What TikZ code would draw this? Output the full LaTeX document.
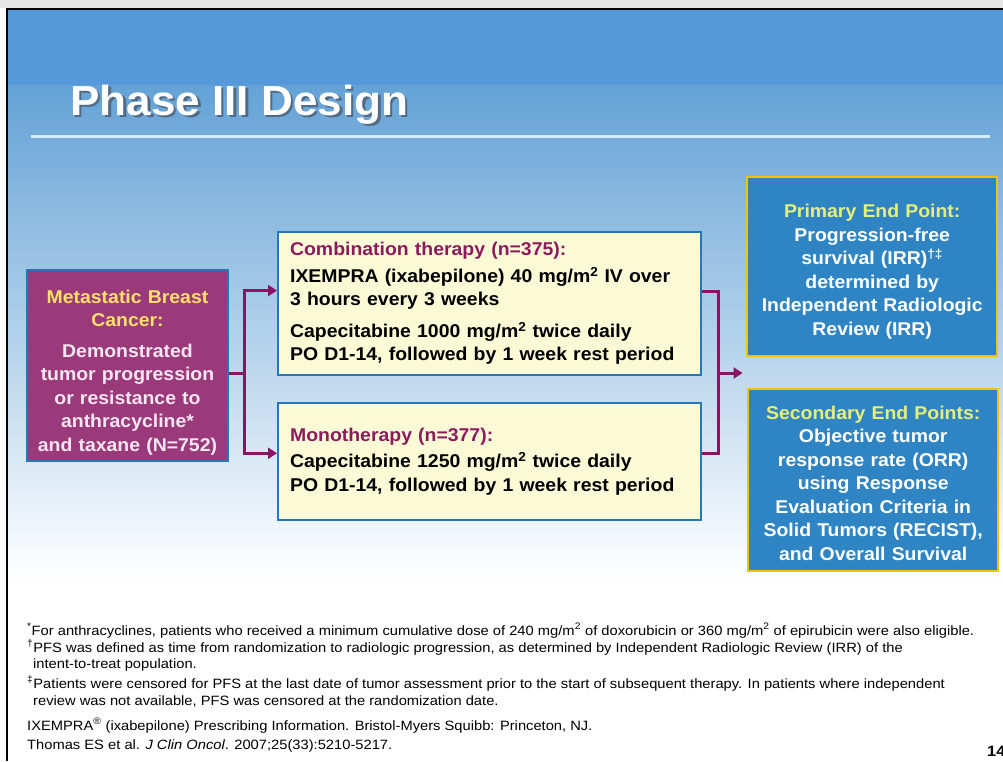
\documentclass[tikz,border=0pt]{standalone}
\usepackage{fontspec}
\setmainfont{Liberation Sans}[FakeStretch=1.05]
\newfontfamily\notefont{Liberation Sans}[FakeStretch=1.09]
\usetikzlibrary{arrows.meta,calc}

\definecolor{headblue}{HTML}{5599DA}
\definecolor{gradtop}{HTML}{64A2D6}
\definecolor{gradmid}{HTML}{CBE0F2}
\definecolor{rulecol}{HTML}{D2EDFB}
\definecolor{plum}{HTML}{9A3A7B}
\definecolor{plumtext}{HTML}{F6E6F2}
\definecolor{connect}{HTML}{8B1462}
\definecolor{boxblue}{HTML}{2377BA}
\definecolor{cream}{HTML}{FAFAD6}
\definecolor{endblue}{HTML}{2F84C3}
\definecolor{gold}{HTML}{F0C400}
\definecolor{mbclabel}{HTML}{FFE06A}
\definecolor{endlabel}{HTML}{E4F07A}
\definecolor{armlabel}{HTML}{8E1A5E}
\definecolor{titleshade}{HTML}{34506E}

% first-line strut that pushes a centred block of text downwards
\newcommand{\toplift}[1]{\rule{0pt}{#1}}

\tikzset{
  boxfont/.style={font=\fontsize{18.5}{23.5}\selectfont\bfseries},
  mbcbox/.style={boxfont, draw=boxblue, line width=1.8pt, fill=plum, text=plumtext,
    minimum width=201pt, minimum height=191pt, text width=195pt, align=center, inner sep=0pt},
  armbox/.style={boxfont, draw=boxblue, line width=2.2pt, fill=cream, text=black,
    minimum height=#1, text width=399pt, align=left, inner xsep=12pt, inner ysep=0pt},
  endbox/.style={boxfont, draw=gold, line width=2.4pt, fill=endblue, text=white,
    minimum width=250pt, minimum height=#1, text width=244pt, align=center, inner sep=0pt},
  conn/.style={draw=connect, line width=3pt},
  tip/.style={-{Triangle[length=9pt,width=11pt]}},
  note/.style={anchor=base west, inner sep=0pt, font=\notefont\fontsize{13.5}{15}\selectfont, text=black},
}

\begin{document}
\begin{tikzpicture}[x=1pt, y=-1pt]
\useasboundingbox (0,0) rectangle (1003,761);

% page background and slide frame
\fill[white] (0,0) rectangle (1003,761);
\fill[black!10] (0,0) rectangle (1003,8);
\fill[headblue] (7,9) rectangle (1003,85);
\shade[top color=gradtop, middle color=gradmid, bottom color=white] (7,85) rectangle (1003,580);
\draw[line width=2pt] (7,761) -- (7,9) -- (1003,9);

% title with drop shadow
\node[anchor=base west, inner sep=0pt, text=white,
      font=\fontsize{42}{50}\selectfont\bfseries] (title) at (70,115)
  {\makebox[0pt][l]{\hspace{2.5pt}\raisebox{-2.5pt}{\textcolor{titleshade!85}{Phase III Design}}}Phase III Design};
\draw[rulecol, line width=3pt] (31,136) -- (990,136);

% patient population
\node[mbcbox] (mbc) at (127.5,365.5) {%
  {\color{mbclabel}\toplift{27.5pt}Metastatic Breast\\Cancer:}\\[7pt]
  Demonstrated\\tumor progression\\or resistance to\\anthracycline*\\and taxane (N=752)};

% treatment arms
\node[armbox=143pt, anchor=north west] (combo) at (277,231) {%
  {\color{armlabel}Combination therapy (n=375):}\\[3pt]
  IXEMPRA (ixabepilone) 40 mg/m\textsuperscript{2} IV over\\
  3 hours every 3 weeks\\[8pt]
  Capecitabine 1000 mg/m\textsuperscript{2} twice daily\\
  PO D1-14, followed by 1 week rest period};
\node[armbox=117pt, anchor=north west] (mono) at (277,402) {%
  {\color{armlabel}Monotherapy (n=377):}\\[3pt]
  Capecitabine 1250 mg/m\textsuperscript{2} twice daily\\
  PO D1-14, followed by 1 week rest period};

% end points
\node[endbox=179pt, anchor=north west] (primary) at (746,176) {%
  {\color{endlabel}\toplift{23.5pt}Primary End Point:}\\
  Progression-free\\
  survival (IRR)\textsuperscript{†‡}\\
  determined by\\
  Independent Radiologic\\
  Review (IRR)};
\node[endbox=182pt, anchor=north west] (secondary) at (747,388) {%
  {\color{endlabel}\toplift{19.5pt}Secondary End Points:}\\
  Objective tumor\\
  response rate (ORR)\\
  using Response\\
  Evaluation Criteria in\\
  Solid Tumors (RECIST),\\
  and Overall Survival};

% randomisation connectors
\coordinate (jl) at (244,373);
\draw[conn] (mbc.east |- jl) -- (jl);
\draw[conn, tip] (jl) |- ($(combo.north west)!0.41!(combo.south west)$);
\draw[conn, tip] (jl) |- ($(mono.north west)!0.43!(mono.south west)$);

% arms merging toward the end points
\coordinate (jr) at (718,373);
\coordinate (gap) at ($(primary.south west)!0.55!(secondary.north west)$);
\draw[conn] ($(combo.north east)!0.42!(combo.south east)$) -| (jr)
            |- ($(mono.north east)!0.43!(mono.south east)$);
\draw[conn, tip, shorten >=4pt] (jr) -- (jr -| gap);

% footnotes and references
\node[note] (fn1) at (27,635) {\textsuperscript{*}For anthracyclines, patients who received a minimum cumulative dose of 240 mg/m\textsuperscript{2} of doxorubicin or 360 mg/m\textsuperscript{2} of epirubicin were also eligible.};
\node[note] (fn2a) at (27,652) {\textsuperscript{†}PFS was defined as time from randomization to radiologic progression, as determined by Independent Radiologic Review (IRR) of the};
\node[note] (fn2b) at (33,668) {intent-to-treat population.};
\node[note] (fn3a) at (27,688) {\textsuperscript{‡}Patients were censored for PFS at the last date of tumor assessment prior to the start of subsequent therapy. In patients where independent};
\node[note] (fn3b) at (33,705) {review was not available, PFS was censored at the randomization date.};
\node[note] (ref1) at (27,730) {IXEMPRA\textsuperscript{®} (ixabepilone) Prescribing Information. Bristol-Myers Squibb: Princeton, NJ.};
\node[note] (ref2) at (27,749) {Thomas ES et al. \textit{J Clin Oncol}. 2007;25(33):5210-5217.};
\node[anchor=base west, inner sep=0pt, font=\notefont\fontsize{15}{17}\selectfont\bfseries] (pagenum) at (987,756) {14};
\end{tikzpicture}
\end{document}
